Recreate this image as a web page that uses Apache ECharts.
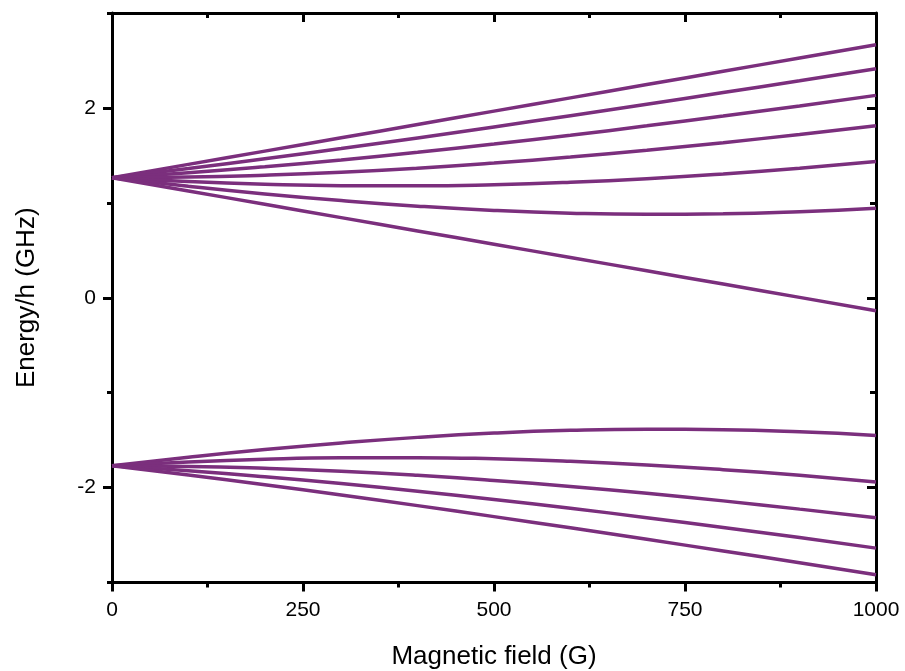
<!DOCTYPE html>
<html>
<head>
<meta charset="utf-8">
<script src="https://cdn.jsdelivr.net/npm/echarts@6/dist/echarts.min.js"></script>
<style>html,body{margin:0;padding:0;background:#fff;}#chart{width:905px;height:671px;}</style>
</head>
<body>
<div id="chart"></div>
<script>
// Magnetic field values (G)
var fieldG = [0, 100, 200, 300, 400, 500, 600, 700, 800, 900, 1000];

// Upper manifold (7 levels), Energy/h in GHz
var up1 = [1.265, 1.405, 1.545, 1.685, 1.825, 1.966, 2.106, 2.246, 2.386, 2.526, 2.666];
var up2 = [1.265, 1.362, 1.465, 1.572, 1.684, 1.800, 1.918, 2.039, 2.162, 2.286, 2.412];
var up3 = [1.265, 1.317, 1.380, 1.452, 1.532, 1.619, 1.712, 1.811, 1.914, 2.021, 2.132];
var up4 = [1.265, 1.271, 1.291, 1.322, 1.365, 1.419, 1.482, 1.554, 1.634, 1.721, 1.813];
var up5 = [1.265, 1.224, 1.196, 1.181, 1.179, 1.191, 1.217, 1.255, 1.305, 1.365, 1.435];
var up6 = [1.265, 1.175, 1.094, 1.024, 0.965, 0.920, 0.891, 0.879, 0.884, 0.906, 0.944];
var up7 = [1.265, 1.125, 0.985, 0.844, 0.704, 0.564, 0.424, 0.284, 0.144, 0.004, -0.137];

// Lower manifold (5 levels)
var low1 = [-1.771, -1.681, -1.600, -1.530, -1.471, -1.426, -1.397, -1.385, -1.390, -1.412, -1.450];
var low2 = [-1.771, -1.730, -1.702, -1.687, -1.685, -1.697, -1.723, -1.761, -1.811, -1.871, -1.941];
var low3 = [-1.771, -1.777, -1.797, -1.828, -1.871, -1.925, -1.988, -2.060, -2.140, -2.227, -2.319];
var low4 = [-1.771, -1.823, -1.886, -1.958, -2.038, -2.125, -2.218, -2.317, -2.420, -2.527, -2.638];
var low5 = [-1.771, -1.868, -1.970, -2.078, -2.190, -2.306, -2.424, -2.545, -2.668, -2.792, -2.918];

var yMajorTicks = [-2, 0, 2];
var xTitle = 'Magnetic field (G)';
var yTitle = 'Energy/h (GHz)';

var allLevels = [up1, up2, up3, up4, up5, up6, up7, low1, low2, low3, low4, low5];
var lineColor = '#7b2f7d';
var font = 'Liberation Sans, Arial, sans-serif';

function pairs(ys) {
  return fieldG.map(function (x, i) { return [x, ys[i]]; });
}

var series = allLevels.map(function (ys) {
  return {
    type: 'line',
    data: pairs(ys),
    xAxisIndex: 0,
    yAxisIndex: 0,
    smooth: true,
    showSymbol: false,
    symbol: 'none',
    lineStyle: { color: lineColor, width: 3.5 },
    z: 3
  };
});

var axisLineStyle = { color: '#000', width: 3 };

var chart = echarts.init(document.getElementById('chart'), null, { renderer: 'canvas' });
chart.setOption({
  animation: false,
  backgroundColor: '#fff',
  grid: { left: 112, right: 29, top: 13, bottom: 88.5, containLabel: false, outerBoundsMode: 'none' },
  xAxis: [
    {
      type: 'value', position: 'bottom', min: 0, max: 1000, interval: 250,
      axisLine: { show: true, onZero: false, lineStyle: axisLineStyle },
      axisTick: { show: true, length: 9, lineStyle: axisLineStyle },
      minorTick: { show: true, splitNumber: 2, length: 5, lineStyle: axisLineStyle },
      splitLine: { show: false }, minorSplitLine: { show: false },
      axisLabel: { fontSize: 21, color: '#000', margin: 17, fontFamily: font,
        formatter: function (v) { return String(v); } },
      name: xTitle, nameLocation: 'middle', nameGap: 61,
      nameTextStyle: { fontSize: 26, color: '#000', fontFamily: font }
    },
    {
      type: 'value', position: 'top', min: 0, max: 1000, interval: 250,
      axisLine: { show: true, onZero: false, lineStyle: axisLineStyle },
      axisTick: { show: true, inside: true, length: 9, lineStyle: axisLineStyle },
      minorTick: { show: true, splitNumber: 2, length: 5, lineStyle: axisLineStyle },
      splitLine: { show: false }, minorSplitLine: { show: false },
      axisLabel: { show: false }
    }
  ],
  yAxis: [
    {
      type: 'value', position: 'left', min: -3, max: 3, interval: 1,
      axisLine: { show: true, onZero: false, lineStyle: axisLineStyle },
      axisTick: { show: true, length: 5, lineStyle: axisLineStyle },
      splitLine: { show: false },
      axisLabel: {
        fontSize: 21, color: '#000', margin: 16, fontFamily: font,
        formatter: function (v) { return yMajorTicks.indexOf(v) >= 0 ? String(v) : ''; }
      },
      name: yTitle, nameLocation: 'middle', nameGap: 72,
      nameTextStyle: { fontSize: 26, color: '#000', fontFamily: font }
    },
    {
      type: 'value', position: 'left', min: -3, max: 3, interval: 1,
      axisLine: { show: false, onZero: false },
      axisTick: { show: true, length: 9, lineStyle: axisLineStyle, customValues: yMajorTicks },
      splitLine: { show: false },
      axisLabel: { show: false }
    },
    {
      type: 'value', position: 'right', min: -3, max: 3, interval: 1,
      axisLine: { show: true, onZero: false, lineStyle: axisLineStyle },
      axisTick: { show: true, inside: true, length: 6, lineStyle: axisLineStyle },
      splitLine: { show: false },
      axisLabel: { show: false }
    },
    {
      type: 'value', position: 'right', min: -3, max: 3, interval: 1,
      axisLine: { show: false, onZero: false },
      axisTick: { show: true, inside: true, length: 9, lineStyle: axisLineStyle, customValues: yMajorTicks },
      splitLine: { show: false },
      axisLabel: { show: false }
    }
  ],
  series: series
});
</script>
</body>
</html>
